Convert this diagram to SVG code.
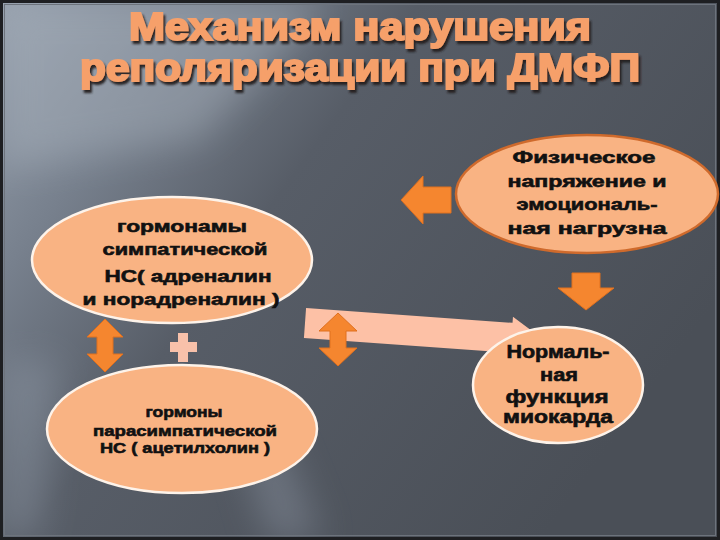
<svg xmlns="http://www.w3.org/2000/svg" width="720" height="540" viewBox="0 0 720 540">
<defs>
<linearGradient id="bg" x1="0" y1="0" x2="1" y2="0.55">
<stop offset="0" stop-color="#96a0ad"/>
<stop offset="0.22" stop-color="#77808d"/>
<stop offset="0.45" stop-color="#575d67"/>
<stop offset="1" stop-color="#4a4f57"/>
</linearGradient>
<filter id="blur" x="-50%" y="-50%" width="200%" height="200%"><feGaussianBlur stdDeviation="18"/></filter>
<filter id="shadow" x="-10%" y="-30%" width="120%" height="160%"><feDropShadow dx="2" dy="3" stdDeviation="0.8" flood-color="#241f1c" flood-opacity="0.95"/></filter>
<style>
.title{font-family:"Liberation Sans","DejaVu Sans",Arial,sans-serif;font-weight:bold;font-size:38px;fill:#f6a06b;stroke:#f6a06b;stroke-width:2px;text-anchor:middle}
.t{font-family:"Liberation Sans","DejaVu Sans",Arial,sans-serif;font-weight:bold;fill:#111;stroke:#111;stroke-width:0.6px;text-anchor:middle}
.e{fill:#f9b383;stroke:#fdf3ea;stroke-width:2.5}
.e3{fill:#f9b383;stroke:#cf6a2c;stroke-width:2.5}
.oa{fill:#f5862f;stroke:#e0701e;stroke-width:1}
.pa{fill:#fdc1a6}
</style>
</defs>
<rect x="0" y="0" width="720" height="540" fill="url(#bg)"/>
<polygon points="0,0 330,0 200,140 0,170" fill="#a9b2bd" opacity="0.45" filter="url(#blur)"/>
<polygon points="0,360 60,360 40,540 0,540" fill="#9aa4b2" opacity="0.35" filter="url(#blur)"/>
<polygon points="240,440 280,440 320,540 270,540" fill="#8a93a0" opacity="0.5" filter="url(#blur)"/>
<rect x="1.5" y="1.5" width="717" height="537" fill="none" stroke="#1e1f22" stroke-width="3"/>
<rect x="4.5" y="4.5" width="711" height="531" fill="none" stroke="#6d737c" stroke-width="1"/>

<g id="title" filter="url(#shadow)">
<text class="title" x="360" y="40" textLength="462" lengthAdjust="spacingAndGlyphs">Механизм нарушения</text>
<text class="title" x="360" y="81" textLength="560" lengthAdjust="spacingAndGlyphs">реполяризации при ДМФП</text>
</g>

<g id="sympathetic">
<ellipse class="e" cx="172" cy="260" rx="140" ry="63"/>
<text class="t" font-size="17" x="182" y="232" textLength="130" lengthAdjust="spacingAndGlyphs">гормонамы</text>
<text class="t" font-size="17" x="185" y="255" textLength="165" lengthAdjust="spacingAndGlyphs">симпатической</text>
<text class="t" font-size="17" x="188" y="282" textLength="167" lengthAdjust="spacingAndGlyphs">НС( адреналин</text>
<text class="t" font-size="17" x="181" y="305" textLength="197" lengthAdjust="spacingAndGlyphs">и норадреналин )</text>
</g>

<g id="parasympathetic">
<ellipse class="e" cx="182" cy="429" rx="135" ry="64"/>
<text class="t" font-size="15" x="184" y="417" textLength="77" lengthAdjust="spacingAndGlyphs">гормоны</text>
<text class="t" font-size="15" x="185" y="436" textLength="184" lengthAdjust="spacingAndGlyphs">парасимпатической</text>
<text class="t" font-size="15" x="185" y="453" textLength="170" lengthAdjust="spacingAndGlyphs">НС ( ацетилхолин )</text>
</g>

<g id="stress">
<ellipse class="e3" cx="587" cy="194" rx="131" ry="59"/>
<text class="t" font-size="17" x="584" y="163" textLength="143" lengthAdjust="spacingAndGlyphs">Физическое</text>
<text class="t" font-size="17" x="587" y="187" textLength="159" lengthAdjust="spacingAndGlyphs">напряжение и</text>
<text class="t" font-size="17" x="587" y="210" textLength="141" lengthAdjust="spacingAndGlyphs">эмоциональ-</text>
<text class="t" font-size="17" x="587" y="234" textLength="159" lengthAdjust="spacingAndGlyphs">ная нагрузна</text>
</g>

<g id="connectors">
<polygon class="pa" points="305,308 512,308 512,302 545,323 512,344 512,338 305,338" transform="rotate(4.1 305 323)"/>
<polygon class="oa" points="401,200 423,176 423,187 451,187 451,213 423,213 423,224"/>
<polygon class="oa" points="572,273 600,273 600,288 614,288 586,310 558,288 572,288"/>
<polygon class="oa" points="105,319 123,337 113,337 113,354 123,354 105,372 87,354 97,354 97,337 87,337"/>
<polygon class="oa" points="338,313 357,331 346,331 346,348 357,348 338,366 319,348 330,348 330,331 319,331"/>
</g>

<g id="plus">
<path d="M178,333 H188 V342 H197 V352 H188 V362 H178 V352 H170 V342 H178 Z" fill="#f8c1aa"/>
</g>

<g id="myocardium">
<ellipse class="e" cx="558" cy="385" rx="85" ry="58"/>
<text class="t" font-size="18" x="558" y="358" textLength="103" lengthAdjust="spacingAndGlyphs">Нормаль-</text>
<text class="t" font-size="18" x="559" y="381" textLength="38" lengthAdjust="spacingAndGlyphs">ная</text>
<text class="t" font-size="18" x="557" y="403" textLength="103" lengthAdjust="spacingAndGlyphs">функция</text>
<text class="t" font-size="18" x="558" y="423" textLength="110" lengthAdjust="spacingAndGlyphs">миокарда</text>
</g>
</svg>
